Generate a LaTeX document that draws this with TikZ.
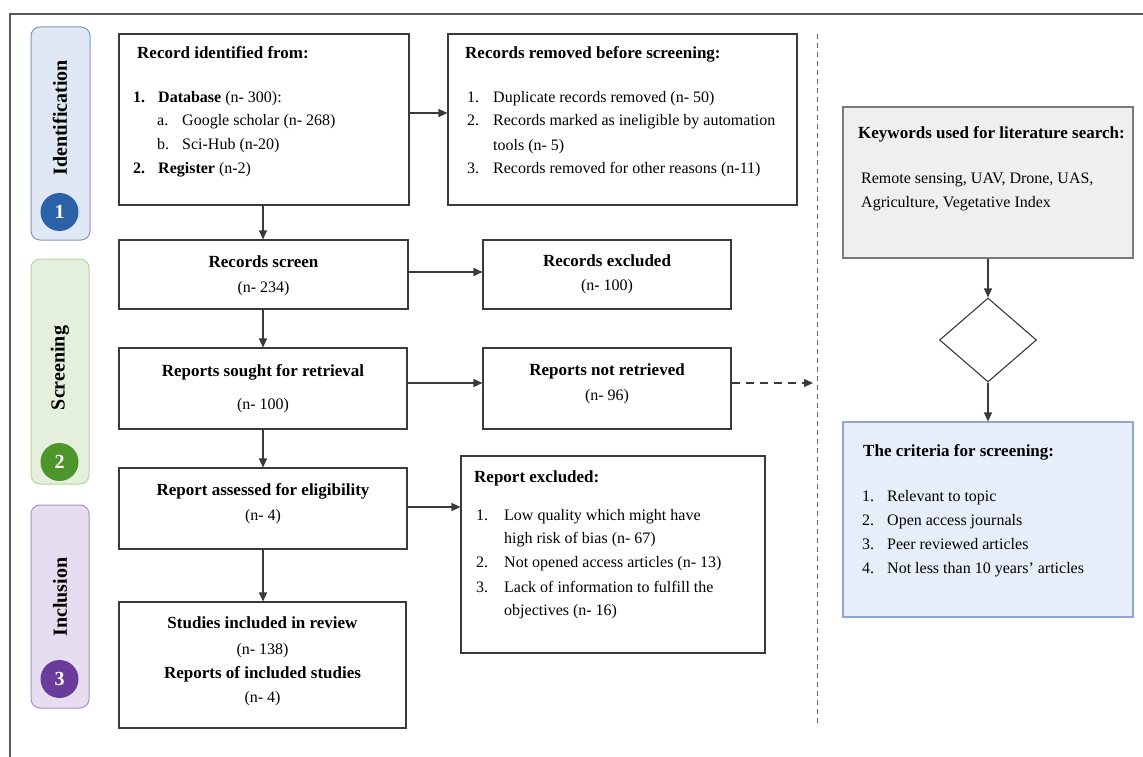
\documentclass[tikz,border=0pt]{standalone}
\usepackage{fontspec}
\setmainfont{Liberation Serif}
\usetikzlibrary{arrows.meta,shapes.geometric,calc}
\definecolor{idfill}{HTML}{DFE8F4}
\definecolor{iddraw}{HTML}{7F97BA}
\definecolor{idcirc}{HTML}{2A62A8}
\definecolor{scfill}{HTML}{E4F0DC}
\definecolor{scdraw}{HTML}{B5D49F}
\definecolor{sccirc}{HTML}{4C962C}
\definecolor{infill}{HTML}{E6DEF0}
\definecolor{indraw}{HTML}{A890C4}
\definecolor{incirc}{HTML}{6A3A9C}
\definecolor{kwfill}{HTML}{EFEFEF}
\definecolor{kwdraw}{HTML}{7A7A7A}
\definecolor{crfill}{HTML}{E7EEF9}
\definecolor{crdraw}{HTML}{8CA8D2}
\definecolor{linec}{HTML}{3A3A3A}
\newcommand\rmsz{\fontsize{16}{19}\selectfont}
\newcommand\hdsz{\fontsize{17}{20}\selectfont\bfseries}
\newcommand\phsz{\fontsize{20}{24}\selectfont\bfseries}
\newcommand\mybox[6]{\node[#6,minimum width=#4pt-#2pt,minimum height=#5pt-#3pt] (#1) at ({(#2+#4)/2},{(#3+#5)/2}) {};}
\newcommand\tx[5]{\node[#1] (#2) at (#3,#4+5.5) {#5};}
\tikzset{
  box/.style={draw=linec, line width=1.1pt, fill=white, inner sep=0pt},
  phase/.style={rounded corners=9pt, line width=1pt, inner sep=0pt},
  arr/.style={draw=linec, line width=1.1pt, -{Triangle[length=9pt,width=8pt]}},
  txt/.style={inner sep=0pt, font=\rmsz, anchor=base west},
  hd/.style={inner sep=0pt, font=\hdsz, anchor=base west},
  ctb/.style={inner sep=0pt, font=\hdsz, anchor=base},
  ctr/.style={inner sep=0pt, font=\rmsz, anchor=base},
  phtxt/.style={inner sep=0pt, font=\phsz, rotate=90},
  numc/.style={circle, inner sep=0pt, minimum size=38pt, text=white, font=\phsz}
}
\begin{document}
\begin{tikzpicture}[x=1pt,y=-1pt]
\useasboundingbox (0,0) rectangle (1143,757);
% outer frame
\coordinate (ftl) at (10,14);
\coordinate (ftr) at (1143,14);
\coordinate (fbl) at (10,757);
\draw[line width=1.3pt, draw=black!65] (ftr) -- (ftl) -- (fbl);
% phases
\mybox{ph1}{31}{27}{90}{240}{phase, fill=idfill, draw=iddraw}
\mybox{ph2}{31}{259}{89}{484}{phase, fill=scfill, draw=scdraw}
\mybox{ph3}{31}{505}{89}{708}{phase, fill=infill, draw=indraw}
\node[phtxt] (ph1t) at (60,118) {Identification};
\node[phtxt] (ph2t) at (60,368) {Screening};
\node[phtxt] (ph3t) at (60,597) {Inclusion};
\node[numc, fill=idcirc] (n1) at (59.5,212) {1};
\node[numc, fill=sccirc] (n2) at (59.5,462) {2};
\node[numc, fill=incirc] (n3) at (59.5,679) {3};
% boxes
\mybox{rid}{119}{34}{409}{205}{box}
\mybox{rrm}{448}{34}{797}{205}{box}
\mybox{rs}{119}{240}{408}{309}{box}
\mybox{rex}{483}{240}{731}{309}{box}
\mybox{rsr}{119}{348}{407}{429}{box}
\mybox{rnr}{483}{348}{731}{429}{box}
\mybox{ra}{119}{468}{407}{549}{box}
\mybox{rpx}{461}{456}{765}{653}{box}
\mybox{si}{119}{602}{406}{728}{box}
\mybox{kw}{843}{107}{1133}{258}{box, fill=kwfill, draw=kwdraw}
\node[diamond, draw=linec, line width=1.1pt, fill=white, inner sep=0pt, minimum width=97pt, minimum height=84pt] (dm) at (988,340) {};
\mybox{cr}{843}{422}{1133}{617}{box, fill=crfill, draw=crdraw}
% texts: record identified
\tx{hd}{t1}{137}{53}{Record identified from:}
\tx{txt}{t2}{133}{97}{\textbf{1.}}
\tx{txt}{t3}{158}{97}{\textbf{Database} (n- 300):}
\tx{txt}{t4}{157}{120}{a.}
\tx{txt}{t5}{182}{120}{Google scholar (n- 268)}
\tx{txt}{t6}{157}{144}{b.}
\tx{txt}{t7}{182}{144}{Sci-Hub (n-20)}
\tx{txt}{t8}{133}{168}{\textbf{2.}}
\tx{txt}{t9}{158}{168}{\textbf{Register} (n-2)}
% records removed
\tx{hd}{u1}{465}{53}{Records removed before screening:}
\tx{txt}{u2}{467}{97}{1.}
\tx{txt}{u3}{493}{97}{Duplicate records removed (n- 50)}
\tx{txt}{u4}{467}{120}{2.}
\tx{txt}{u5}{493}{120}{Records marked as ineligible by automation}
\tx{txt}{u6}{493}{145}{tools (n- 5)}
\tx{txt}{u7}{467}{168}{3.}
\tx{txt}{u8}{493}{168}{Records removed for other reasons (n-11)}
% centred boxes
\tx{ctb}{v1}{263.5}{262}{Records screen}
\tx{ctr}{v2}{263.5}{287}{(n- 234)}
\tx{ctb}{v3}{607}{261}{Records excluded}
\tx{ctr}{v4}{607}{285}{(n- 100)}
\tx{ctb}{v5}{263}{371}{Reports sought for retrieval}
\tx{ctr}{v6}{263}{404}{(n- 100)}
\tx{ctb}{v7}{607}{370}{Reports not retrieved}
\tx{ctr}{v8}{607}{395}{(n- 96)}
\tx{ctb}{v9}{263}{490}{Report assessed for eligibility}
\tx{ctr}{v10}{263}{515}{(n- 4)}
\tx{ctb}{v11}{262.5}{623}{Studies included in review}
\tx{ctr}{v12}{262.5}{649}{(n- 138)}
\tx{ctb}{v13}{262.5}{673}{Reports of included studies}
\tx{ctr}{v14}{262.5}{697}{(n- 4)}
% report excluded
\tx{hd}{w1}{474}{477}{Report excluded:}
\tx{txt}{w2}{476}{515}{1.}
\tx{txt}{w3}{504}{515}{Low quality which might have}
\tx{txt}{w4}{504}{538}{high risk of bias (n- 67)}
\tx{txt}{w5}{476}{562}{2.}
\tx{txt}{w6}{504}{562}{Not opened access articles (n- 13)}
\tx{txt}{w7}{476}{587}{3.}
\tx{txt}{w8}{504}{587}{Lack of information to fulfill the}
\tx{txt}{w9}{504}{610}{objectives (n- 16)}
% keywords
\tx{hd}{k1}{858}{133}{Keywords used for literature search:}
\tx{txt}{k2}{861}{178}{Remote sensing, UAV, Drone, UAS,}
\tx{txt}{k3}{861}{202}{Agriculture, Vegetative Index}
% criteria
\tx{hd}{c1}{863}{451}{The criteria for screening:}
\tx{txt}{c2}{862}{496}{1.}
\tx{txt}{c3}{887}{496}{Relevant to topic}
\tx{txt}{c4}{862}{520}{2.}
\tx{txt}{c5}{887}{520}{Open access journals}
\tx{txt}{c6}{862}{544}{3.}
\tx{txt}{c7}{887}{544}{Peer reviewed articles}
\tx{txt}{c8}{862}{568}{4.}
\tx{txt}{c9}{887}{568}{Not less than 10 years’ articles}
% connectors
\draw[arr] ([yshift=6.5pt]rid.east) -- ([yshift=6.5pt]rrm.west);
\draw[arr] (rid.south -| 263,0) -- (rs.north -| 263,0);
\draw[arr] ([yshift=2.5pt]rs.east) -- ([yshift=2.5pt]rex.west);
\draw[arr] (rs.south -| 263,0) -- (rsr.north -| 263,0);
\draw[arr] ([yshift=5.5pt]rsr.east) -- ([yshift=5.5pt]rnr.west);
\draw[arr] (rsr.south -| 263,0) -- (ra.north -| 263,0);
\draw[arr] ([yshift=1.5pt]ra.east) -- ([yshift=1.5pt]ra.east -| rpx.west);
\draw[arr] (ra.south -| 263,0) -- (si.north -| 263,0);
% dashed divider and dashed arrow
\coordinate (dtop) at (817,34);
\coordinate (dbot) at (817,727);
\coordinate (dend) at (813,383);
\draw[draw=black!60, line width=1pt, dash pattern=on 5pt off 4pt] (dtop) -- (dbot);
\draw[draw=linec, line width=1.1pt, dash pattern=on 8pt off 6pt, -{Triangle[length=9pt,width=8pt]}] ([yshift=5.5pt]rnr.east) -- (dend);
% right flow
\draw[arr] (kw.south) -- (dm.north);
\draw[arr] (dm.south) -- (cr.north);
\end{tikzpicture}
\end{document}
